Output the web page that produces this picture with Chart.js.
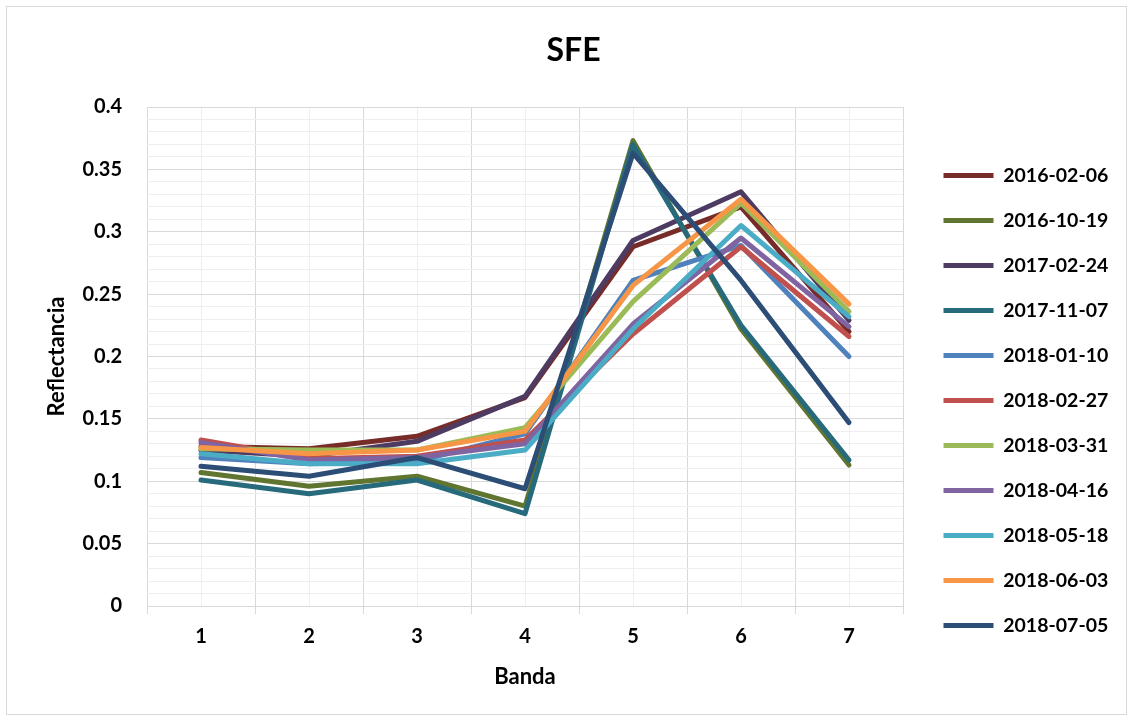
<!DOCTYPE html>
<html>
<head>
<meta charset="utf-8">
<script src="https://cdn.jsdelivr.net/npm/chart.js@4"></script>
<style>
  html, body { margin: 0; padding: 0; background: #fff; }
  canvas { display: block; }
</style>
</head>
<body>
<canvas id="c" width="1133" height="721"></canvas>
<script>
// ---- data ----
const bands = ['1', '2', '3', '4', '5', '6', '7'];
const seriesNames = ['2016-02-06', '2016-10-19', '2017-02-24', '2017-11-07', '2018-01-10', '2018-02-27', '2018-03-31', '2018-04-16', '2018-05-18', '2018-06-03', '2018-07-05'];
const s20160206 = [0.128, 0.126, 0.136, 0.167, 0.288, 0.320, 0.220];
const s20161019 = [0.107, 0.096, 0.104, 0.080, 0.373, 0.222, 0.113];
const s20170224 = [0.125, 0.120, 0.132, 0.168, 0.293, 0.332, 0.229];
const s20171107 = [0.101, 0.090, 0.101, 0.074, 0.370, 0.225, 0.117];
const s20180110 = [0.119, 0.114, 0.116, 0.138, 0.261, 0.289, 0.200];
const s20180227 = [0.133, 0.118, 0.120, 0.133, 0.218, 0.288, 0.216];
const s20180331 = [0.126, 0.125, 0.125, 0.143, 0.244, 0.323, 0.236];
const s20180416 = [0.131, 0.117, 0.119, 0.130, 0.226, 0.295, 0.224];
const s20180518 = [0.122, 0.114, 0.114, 0.125, 0.222, 0.305, 0.232];
const s20180603 = [0.127, 0.122, 0.125, 0.140, 0.257, 0.326, 0.242];
const s20180705 = [0.112, 0.104, 0.119, 0.094, 0.363, 0.261, 0.147];
const seriesValues = [s20160206, s20161019, s20170224, s20171107, s20180110, s20180227, s20180331, s20180416, s20180518, s20180603, s20180705];
const seriesColors = ['#772C2A', '#5F7530', '#4D3B62', '#276A7C', '#4F81BD', '#C0504D', '#9BBB59', '#8064A2', '#4BACC6', '#F79646', '#2C4D75'];
const yMin = 0, yMax = 0.4, yMinorStep = 0.01;

// ---- styling ----
const FONT = 'Lato, "Open Sans", "DejaVu Sans", sans-serif';
Chart.defaults.font.family = FONT;
Chart.defaults.color = '#000';
const legendFontSize = 19.5;
const boxW = 50;
const legendPad = 25.5;
const plotRight = 903;
const legendLeft = 918;
const canvasW = 1133;

const datasets = seriesNames.map((name, i) => ({
  label: name,
  data: seriesValues[i],
  borderColor: seriesColors[i],
  backgroundColor: seriesColors[i],
  borderWidth: 5,
  borderCapStyle: 'round',
  borderJoinStyle: 'round',
  pointRadius: 0,
  pointHoverRadius: 0,
  tension: 0,
  fill: false,
  order: -i,
  xAxisID: 'x',
  yAxisID: 'y'
}));

const framePlugin = {
  id: 'frame',
  beforeDraw(chart) {
    const ctx = chart.ctx;
    ctx.save();
    ctx.fillStyle = '#fff';
    ctx.fillRect(0, 0, chart.width, chart.height);
    ctx.strokeStyle = '#D9D9D9';
    ctx.lineWidth = 1;
    ctx.strokeRect(6.5, 6.5, 1120, 708);
    ctx.restore();
  },
  afterLayout(chart) {
    const lg = chart.legend;
    if (lg) {
      lg.left = legendLeft;
      lg.right = canvasW;
      lg.width = canvasW - legendLeft;
    }
  }
};

new Chart(document.getElementById('c'), {
  type: 'line',
  data: { labels: bands, datasets },
  plugins: [framePlugin],
  options: {
    responsive: false,
    animation: false,
    devicePixelRatio: 1,
    layout: { padding: { left: 14, right: 0, top: 0, bottom: 0 } },
    plugins: {
      tooltip: { enabled: false },
      title: {
        display: true,
        text: 'SFE',
        color: '#000',
        font: { size: 32, weight: 'bold' },
        padding: { top: 31, bottom: 37.6 }
      },
      legend: {
        position: 'right',
        align: 'center',
        title: { display: true, text: '', font: { size: 10 }, padding: { top: 68, bottom: 0 } },
        labels: {
          usePointStyle: true,
          pointStyle: 'line',
          pointStyleWidth: boxW,
          boxHeight: legendFontSize,
          padding: legendPad,
          color: '#000',
          font: { size: legendFontSize, weight: 'bold' },
          sort: (a, b) => a.datasetIndex - b.datasetIndex
        }
      }
    },
    scales: {
      x: {
        type: 'category',
        position: 'bottom',
        offset: true,
        grid: { offset: true, color: '#D9D9D9', lineWidth: 1, drawTicks: true, tickLength: 8, tickColor: '#D9D9D9' },
        border: { display: true, color: '#D9D9D9' },
        ticks: { color: '#000', font: { size: 20, weight: 'bold' }, padding: 11, maxRotation: 0, autoSkip: false },
        title: { display: true, text: 'Banda', color: '#000', font: { size: 22, weight: 'bold' }, padding: { top: 0, bottom: 31 } },
        afterFit(s) { s.height = 721 - 606; }
      },
      x2: {
        type: 'category',
        position: 'bottom',
        offset: true,
        labels: bands,
        grid: { offset: false, color: '#EFEFEF', lineWidth: 1, drawTicks: false },
        border: { display: false },
        ticks: { display: false },
        afterFit(s) { s.height = 0; }
      },
      y: {
        type: 'linear',
        position: 'left',
        min: yMin,
        max: yMax,
        grid: {
          drawTicks: false,
          lineWidth: 1,
          color: (c) => (Math.round(c.tick.value * 100) % 5 === 0 ? '#D9D9D9' : '#EFEFEF')
        },
        border: { display: false },
        ticks: {
          stepSize: yMinorStep,
          autoSkip: false,
          padding: 25,
          color: '#000',
          font: { size: 20, weight: 'bold' },
          callback: (v) => {
            const k = Math.round(v * 100);
            return k % 5 === 0 ? String(+(k / 100).toFixed(2)) : '';
          }
        },
        title: { display: true, text: 'Reflectancia', color: '#000', font: { size: 22, weight: 'bold' }, padding: { top: 30, bottom: 0 } },
        afterFit(s) { s.width = 147 - 14; }
      },
      yR: {
        type: 'linear',
        position: 'right',
        display: true,
        grid: { display: false, drawTicks: false },
        border: { display: false },
        ticks: { display: false },
        afterFit(s) {
          const lw = (s.chart.legend && s.chart.legend.width) || 0;
          s.width = Math.max(0, canvasW - plotRight - lw);
        }
      }
    }
  }
});
</script>
</body>
</html>
